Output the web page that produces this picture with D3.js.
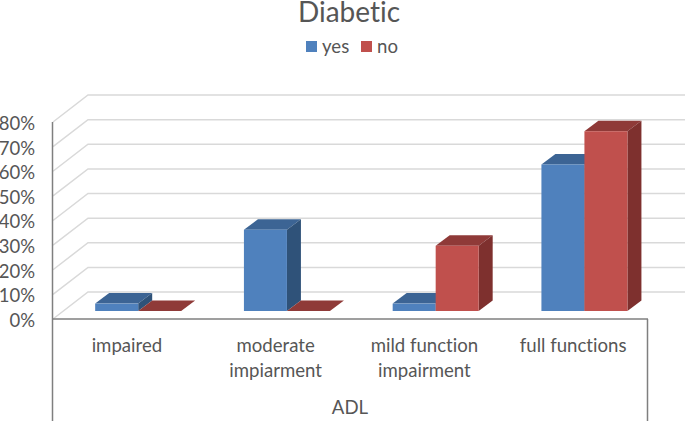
<!DOCTYPE html>
<html>
<head>
<meta charset="utf-8">
<script src="https://cdn.jsdelivr.net/npm/d3@7"></script>
<style>
  html, body { margin: 0; padding: 0; background: #fff; overflow: hidden; }
  svg { display: block; }
  text { font-family: Lato, "Open Sans", sans-serif; fill: #565656; font-variant-ligatures: none; }
</style>
</head>
<body>
<div id="my_dataviz"></div>
<script>
// values
var categories = [["impaired"], ["moderate", "impiarment"], ["mild function", "impairment"], ["full functions"]];
var seriesNames = ["yes", "no"];
var yesValues = [0.03, 0.33, 0.03, 0.595];
var noValues = [0, 0, 0.265, 0.73];
var yTicks = [0, 0.1, 0.2, 0.3, 0.4, 0.5, 0.6, 0.7, 0.8];

var width = 685, height = 421;

// colours for each series: front, top, side
var faces = {
  yes: ["#4f81bd", "#3c6494", "#2f5279"],
  no: ["#c0504d", "#8f3a38", "#7e302e"]
};

// 3d offsets
var wall = {dx: 35, dy: -27};
var barBase = {dx: 10.8, dy: -8};
var barDepth = {dx: 14, dy: -10.5};
var barWidth = 43;

var svg = d3.select("#my_dataviz")
  .append("svg")
    .attr("width", width)
    .attr("height", height);

var x0 = d3.scaleBand()
  .domain(d3.range(categories.length))
  .range([53, 648]);

var x1 = d3.scaleBand()
  .domain(seriesNames)
  .range([x0.bandwidth() / 2 - barWidth, x0.bandwidth() / 2 + barWidth]);

var y = d3.scaleLinear()
  .domain([0, 0.8])
  .range([319, 122]);

// gridlines on the back wall and the side wall
var grid = svg.append("g")
  .attr("stroke", "#d9d9d9")
  .attr("stroke-width", 1.5)
  .attr("fill", "none");

grid.selectAll("path")
  .data(yTicks)
  .enter()
  .append("path")
    .attr("d", function(d) {
      var p = d3.path();
      p.moveTo(53, y(d));
      p.lineTo(53 + wall.dx, y(d) + wall.dy);
      p.lineTo(width, y(d) + wall.dy);
      return p.toString();
    });

// y axis
var yAxis = svg.append("g")
  .attr("transform", "translate(53,0)")
  .call(d3.axisLeft(y).tickValues(yTicks).tickFormat(d3.format(".0%")).tickSize(0).tickPadding(18));
yAxis.select(".domain").remove();
yAxis.selectAll("text")
  .attr("y", 1.5)
  .style("font-size", "18.5px")
  .style("font-family", "Lato, sans-serif")
  .style("fill", "#565656");

svg.append("line")
  .attr("x1", 52.5).attr("x2", 52.5)
  .attr("y1", y(0.8)).attr("y2", height)
  .attr("stroke", "#7f7f7f").attr("stroke-width", 1.5);
svg.append("line")
  .attr("x1", 52).attr("x2", 648)
  .attr("y1", 319).attr("y2", 319)
  .attr("stroke", "#7f7f7f").attr("stroke-width", 1.5);
svg.append("line")
  .attr("x1", 647.5).attr("x2", 647.5)
  .attr("y1", 319).attr("y2", height)
  .attr("stroke", "#7f7f7f").attr("stroke-width", 1.5);

// bars, each made from top, side and front faces
function poly(points) {
  return points.map(function(p) { return p.join(","); }).join(" ");
}

var bars = [];
categories.forEach(function(c, i) {
  bars.push({cat: i, series: "yes", value: yesValues[i]});
  bars.push({cat: i, series: "no", value: noValues[i]});
});

var bar = svg.selectAll(".bar")
  .data(bars)
  .enter()
  .append("g")
    .attr("class", "bar");

function corners(d) {
  var left = x0(d.cat) + x1(d.series) + barBase.dx;
  var right = left + barWidth;
  var bottom = y(0) + barBase.dy;
  var top = y(d.value) + barBase.dy;
  return {left: left, right: right, bottom: bottom, top: top};
}

bar.append("polygon")
  .attr("fill", function(d) { return faces[d.series][1]; })
  .attr("points", function(d) {
    var c = corners(d);
    return poly([[c.left, c.top], [c.left + barDepth.dx, c.top + barDepth.dy],
      [c.right + barDepth.dx, c.top + barDepth.dy], [c.right, c.top]]);
  });

bar.append("polygon")
  .attr("fill", function(d) { return faces[d.series][2]; })
  .attr("points", function(d) {
    var c = corners(d);
    return poly([[c.right, c.top], [c.right + barDepth.dx, c.top + barDepth.dy],
      [c.right + barDepth.dx, c.bottom + barDepth.dy], [c.right, c.bottom]]);
  });

bar.append("rect")
  .attr("fill", function(d) { return faces[d.series][0]; })
  .attr("x", function(d) { return corners(d).left; })
  .attr("y", function(d) { return corners(d).top; })
  .attr("width", barWidth)
  .attr("height", function(d) { var c = corners(d); return c.bottom - c.top; });

// category labels
var catLabel = svg.selectAll(".cat")
  .data(categories)
  .enter()
  .append("text")
    .attr("class", "cat")
    .attr("text-anchor", "middle")
    .style("font-size", "18.6px")
    .attr("transform", function(d, i) {
      return "translate(" + (x0(i) + x0.bandwidth() / 2 - 0.5) + ",352)";
    });

catLabel.selectAll("tspan")
  .data(function(d) { return d; })
  .enter()
  .append("tspan")
    .attr("x", 0)
    .attr("y", function(d, i) { return i * 25; })
    .text(function(d) { return d; });

// axis title
svg.append("text")
  .attr("x", 350)
  .attr("y", 414)
  .attr("text-anchor", "middle")
  .style("font-size", "18.6px")
  .text("ADL");

// title
svg.append("text")
  .attr("x", 349)
  .attr("y", 22)
  .attr("text-anchor", "middle")
  .style("font-size", "28px")
  .text("Diabetic");

// legend
var legend = svg.selectAll(".legend")
  .data(seriesNames)
  .enter()
  .append("g")
    .attr("class", "legend")
    .attr("transform", function(d, i) { return "translate(" + (306 + i * 55) + ",41)"; });

legend.append("rect")
  .attr("width", 11)
  .attr("height", 11)
  .attr("fill", function(d) { return faces[d][0]; });

legend.append("text")
  .attr("x", 16)
  .attr("y", 12)
  .style("font-size", "18.6px")
  .text(function(d) { return d; });
</script>
</body>
</html>
